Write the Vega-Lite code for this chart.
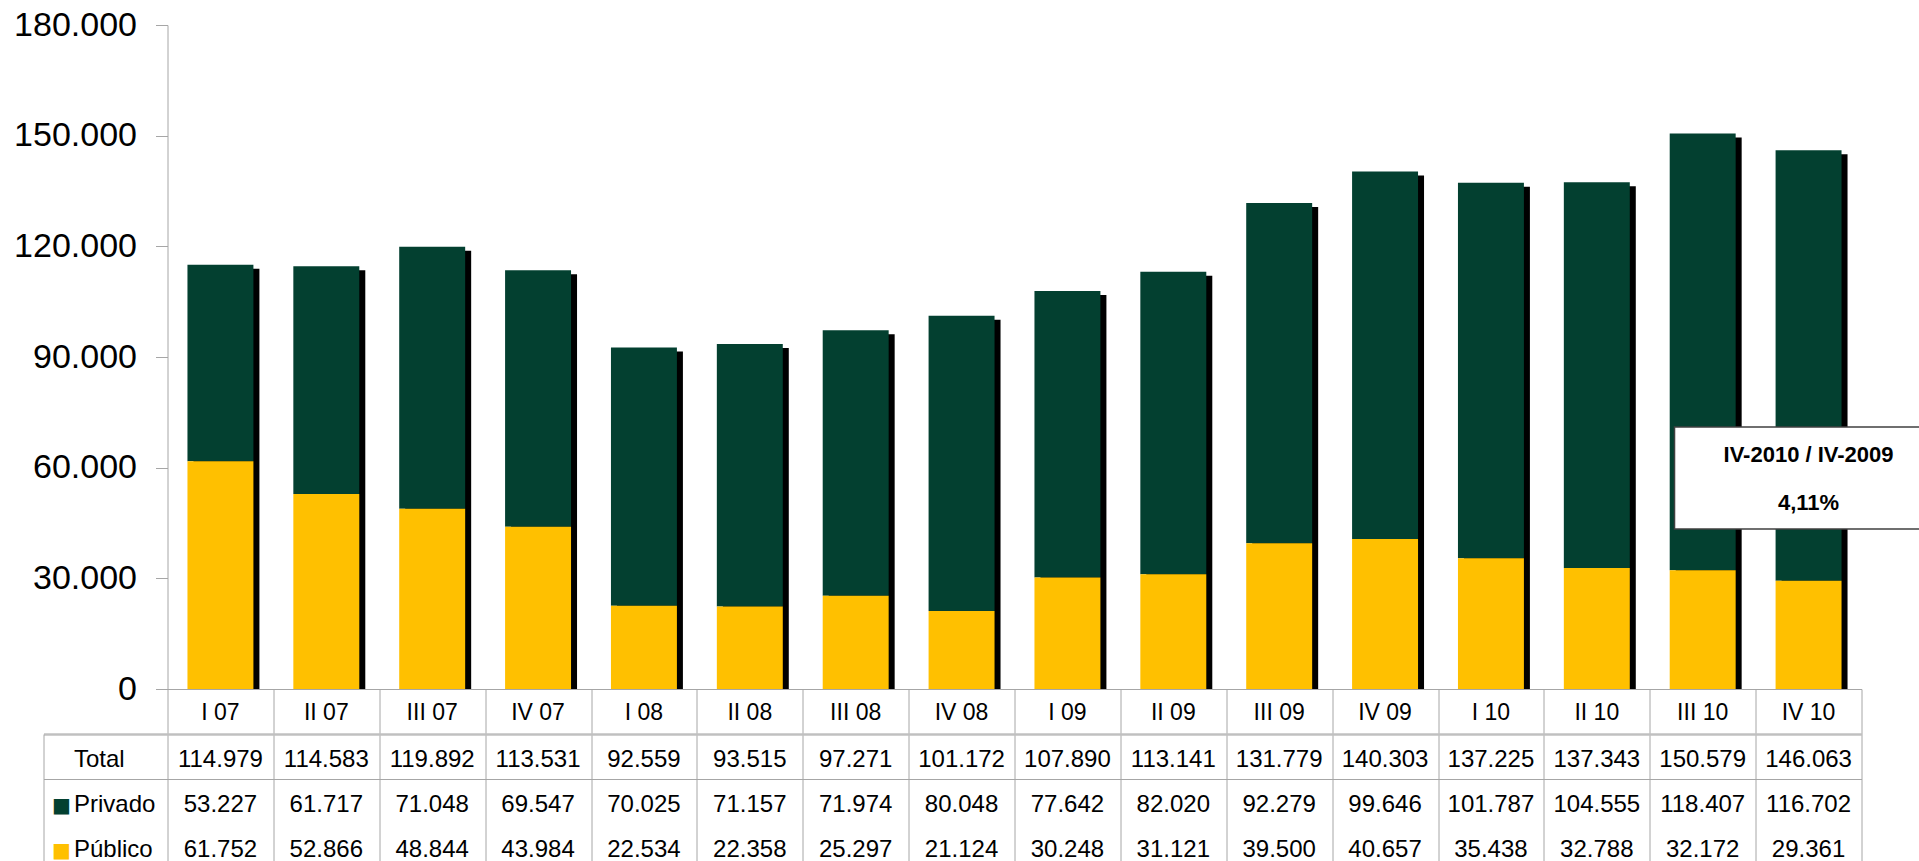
{
  "$schema": "https://vega.github.io/schema/vega-lite/v6.json",
  "padding": {"left": 13.5, "top": 8, "right": 0, "bottom": 0},
  "config": {
    "locale": {"number": {"decimal": ",", "thousands": ".", "grouping": [3], "currency": ["", ""]}},
    "view": {"stroke": null},
    "font": "Liberation Sans"
  },
  "spacing": 0,
  "bounds": "flush",
  "datasets": {
    "q": [
      {"quarter": "I 07", "Total": 114979, "Privado": 53227, "Público": 61752},
      {"quarter": "II 07", "Total": 114583, "Privado": 61717, "Público": 52866},
      {"quarter": "III 07", "Total": 119892, "Privado": 71048, "Público": 48844},
      {"quarter": "IV 07", "Total": 113531, "Privado": 69547, "Público": 43984},
      {"quarter": "I 08", "Total": 92559, "Privado": 70025, "Público": 22534},
      {"quarter": "II 08", "Total": 93515, "Privado": 71157, "Público": 22358},
      {"quarter": "III 08", "Total": 97271, "Privado": 71974, "Público": 25297},
      {"quarter": "IV 08", "Total": 101172, "Privado": 80048, "Público": 21124},
      {"quarter": "I 09", "Total": 107890, "Privado": 77642, "Público": 30248},
      {"quarter": "II 09", "Total": 113141, "Privado": 82020, "Público": 31121},
      {"quarter": "III 09", "Total": 131779, "Privado": 92279, "Público": 39500},
      {"quarter": "IV 09", "Total": 140303, "Privado": 99646, "Público": 40657},
      {"quarter": "I 10", "Total": 137225, "Privado": 101787, "Público": 35438},
      {"quarter": "II 10", "Total": 137343, "Privado": 104555, "Público": 32788},
      {"quarter": "III 10", "Total": 150579, "Privado": 118407, "Público": 32172},
      {"quarter": "IV 10", "Total": 146063, "Privado": 116702, "Público": 29361}
    ],
    "note": [{"ratio": "IV-2010 / IV-2009", "change": "4,11%"}],
    "legendRows": [{"fila": "Privado"}, {"fila": "Público"}]
  },
  "vconcat": [
    {
      "width": 1694,
      "height": 664,
      "layer": [
        {
          "data": {"name": "q"},
          "mark": {"type": "bar", "color": "#000000", "xOffset": 6, "yOffset": 4, "width": {"band": 0.623}},
          "encoding": {
            "x": {
              "field": "quarter", "type": "nominal", "sort": null, "title": null,
              "scale": {"domain": ["I 07","II 07","III 07","IV 07","I 08","II 08","III 08","IV 08","I 09","II 09","III 09","IV 09","I 10","II 10","III 10","IV 10"], "paddingInner": 0, "paddingOuter": 0},
              "axis": {"labels": false, "ticks": false, "domain": true, "domainColor": "#a6a6a6", "domainWidth": 1, "grid": false, "title": null}
            },
            "y": {
              "field": "Total", "type": "quantitative", "title": null,
              "scale": {"domain": [0, 180000], "nice": false},
              "axis": {"values": [0, 30000, 60000, 90000, 120000, 150000, 180000], "format": ",d", "grid": false, "title": null,
                       "labelFontSize": 34, "labelColor": "#000000", "labelPadding": 19,
                       "domainColor": "#a6a6a6", "tickColor": "#a6a6a6", "tickSize": 12}
            },
            "y2": {"datum": 0}
          }
        },
        {
          "data": {"name": "q"},
          "transform": [{"fold": ["Privado", "Público"], "as": ["serie", "valor"]}],
          "mark": {"type": "bar", "width": {"band": 0.623}},
          "encoding": {
            "x": {"field": "quarter", "type": "nominal", "sort": null, "title": null},
            "y": {"field": "valor", "type": "quantitative", "stack": "zero", "title": null},
            "color": {"field": "serie", "type": "nominal", "scale": {"domain": ["Privado", "Público"], "range": ["#034030", "#FFC000"]}, "legend": null},
            "order": {"field": "serie", "sort": "descending"}
          }
        },
        {
          "data": {"name": "note"},
          "mark": {"type": "rect", "fill": "#ffffff", "stroke": "#404040", "strokeWidth": 1.5, "x2Offset": 62},
          "encoding": {
            "x": {"datum": "III 10", "bandPosition": 0.234},
            "x2": {"datum": "IV 10", "bandPosition": 1},
            "y": {"datum": 71000},
            "y2": {"datum": 43400}
          }
        },
        {
          "data": {"name": "note"},
          "mark": {"type": "text", "fontSize": 22, "fontWeight": "bold", "color": "#000000", "baseline": "middle"},
          "encoding": {
            "x": {"datum": "IV 10"},
            "y": {"datum": 63400},
            "text": {"field": "ratio"}
          }
        },
        {
          "data": {"name": "note"},
          "mark": {"type": "text", "fontSize": 22, "fontWeight": "bold", "color": "#000000", "baseline": "middle"},
          "encoding": {
            "x": {"datum": "IV 10"},
            "y": {"datum": 50400},
            "text": {"field": "change"}
          }
        }
      ]
    },
    {
      "width": 1694,
      "height": 180,
      "layer": [
        {
          "layer": [
            {
              "data": {"name": "q"},
              "transform": [{"fold": ["Total", "Privado", "Público"], "as": ["fila", "valor"]}],
              "mark": {"type": "text", "fontSize": 24, "color": "#000000", "baseline": "middle", "dy": 3},
              "encoding": {
                "x": {
                  "field": "quarter", "type": "nominal", "sort": null, "title": null,
                  "scale": {"domain": ["I 07","II 07","III 07","IV 07","I 08","II 08","III 08","IV 08","I 09","II 09","III 09","IV 09","I 10","II 10","III 10","IV 10"], "paddingInner": 0, "paddingOuter": 0},
                  "axis": {"labels": false, "ticks": false, "domain": false, "grid": true, "tickBand": "extent", "gridColor": "#a6a6a6", "gridWidth": 1, "title": null}
                },
                "y": {
                  "field": "fila", "type": "nominal", "sort": null, "title": null,
                  "scale": {"domain": ["hdr", "Total", "Privado", "Público"], "paddingInner": 0, "paddingOuter": 0},
                  "axis": {
                    "title": null, "domain": false,
                    "labelExpr": "datum.value == 'hdr' ? '' : datum.value",
                    "labelAlign": "left", "labelPadding": -30, "labelFontSize": 24, "labelColor": "#000000", "labelOffset": 3,
                    "tickBand": "extent", "tickSize": 124,
                    "tickColor": {"condition": {"test": "datum.value == 'hdr'", "value": "#c0c0c0"}, "value": "#a6a6a6"},
                    "tickWidth": {"condition": {"test": "datum.value == 'hdr'", "value": 2.5}, "value": 1},
                    "tickOpacity": {"condition": {"test": "datum.value == 'hdr' || datum.value == 'Total'", "value": 1}, "value": 0},
                    "grid": true,
                    "gridColor": {"condition": {"test": "datum.value == 'hdr'", "value": "#c0c0c0"}, "value": "#a6a6a6"},
                    "gridWidth": {"condition": {"test": "datum.value == 'hdr'", "value": 2.5}, "value": 1},
                    "gridOpacity": {"condition": {"test": "datum.value == 'hdr' || datum.value == 'Total'", "value": 1}, "value": 0}
                  }
                },
                "text": {"field": "valor", "type": "quantitative", "format": ",d"}
              }
            },
            {
              "data": {"name": "q"},
              "mark": {"type": "text", "fontSize": 23, "color": "#000000", "baseline": "middle", "dy": 1},
              "encoding": {
                "x": {"field": "quarter", "type": "nominal", "sort": null, "title": null},
                "y": {"datum": "hdr"},
                "text": {"field": "quarter"}
              }
            }
          ]
        },
        {
          "data": {"name": "legendRows"},
          "mark": {"type": "point", "opacity": 0},
          "encoding": {
            "y": {
              "field": "fila", "type": "nominal", "sort": null, "title": null,
              "scale": {"domain": ["hdr", "Total", "Privado", "Público"], "paddingInner": 0, "paddingOuter": 0},
              "axis": {
                "orient": "left", "offset": 124, "title": null,
                "domain": true, "domainColor": "#a6a6a6", "domainDash": [0, 45, 300], "ticks": false, "grid": false,
                "labelExpr": "(datum.value == 'Privado' || datum.value == 'Público') ? '■' : ''",
                "labelFont": "DejaVu Sans", "labelFontSize": 20, "labelAlign": "left", "labelPadding": -8, "labelOffset": 4,
                "labelColor": {"condition": {"test": "datum.value == 'Privado'", "value": "#034030"}, "value": "#FFC000"}
              }
            }
          }
        }
      ],
      "resolve": {"scale": {"y": "independent"}, "axis": {"y": "independent"}}
    }
  ]
}
